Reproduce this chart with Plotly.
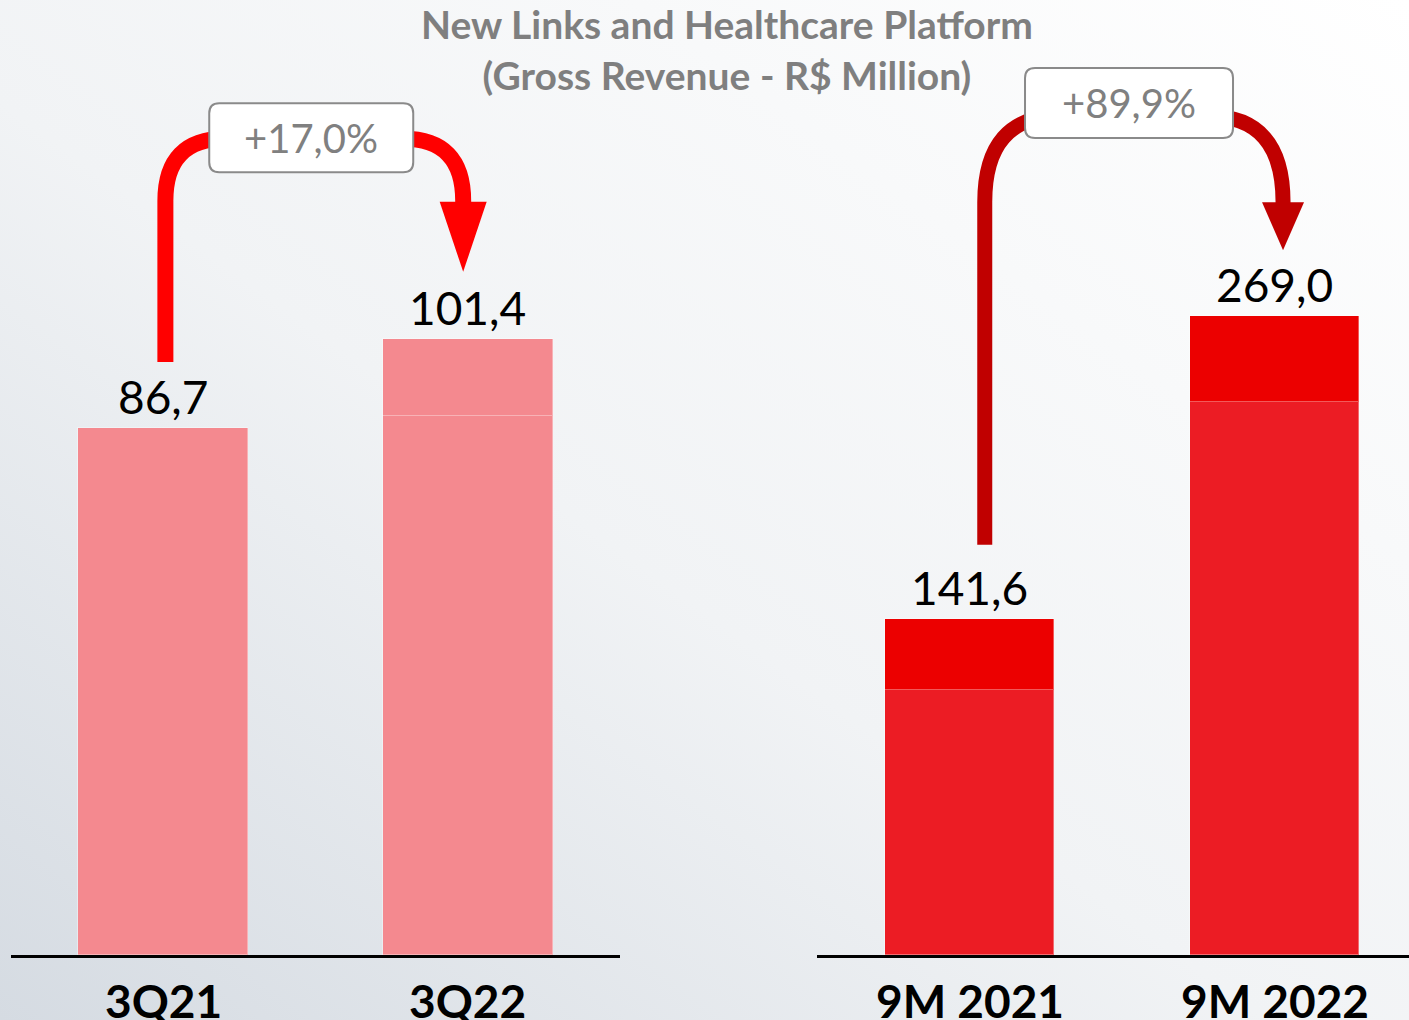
import base64
import plotly.graph_objects as go

# data
quarters = ['3Q21', '3Q22']
quarter_base = [86.7, 88.7]
quarter_top = [None, 12.7]
quarter_total = [86.7, 101.4]
quarter_growth = '+17,0%'

ytd = ['9M 2021', '9M 2022']
ytd_base = [111.7, 233.0]
ytd_top = [29.9, 36.0]
ytd_total = [141.6, 269.0]
ytd_growth = '+89,9%'

W, H = 1409, 1020
BASE_PX = 955
# pixels per data unit on each panel
KX_L, KY_L = 304.5, 6.077
KX_R, KY_R = 305.0, 2.3745

PINK = '#F4898F'
RED = '#EC1C24'
DARK = '#EC0000'


def fmt(v):
    return f'{v:.1f}'.replace('.', ',')


# soft gray/white background gradient
svg = ('<svg xmlns="http://www.w3.org/2000/svg" width="1409" height="1020">'
       '<defs><linearGradient id="g" x1="0" y1="1" x2="1" y2="0">'
       '<stop offset="0" stop-color="#d5dbe2"/><stop offset="0.45" stop-color="#f1f3f5"/>'
       '<stop offset="1" stop-color="#ffffff"/></linearGradient></defs>'
       '<rect width="1409" height="1020" fill="url(#g)"/></svg>')
bg = 'data:image/svg+xml;base64,' + base64.b64encode(svg.encode()).decode()

fig = go.Figure()
xs = [0, 1]
line = dict(color='rgba(255,255,255,0.35)', width=1)
fig.add_bar(x=xs, y=quarter_base, marker=dict(color=PINK, line=line), width=0.558, xaxis='x', yaxis='y')
fig.add_bar(x=xs, y=quarter_top, marker=dict(color=PINK, line=line), width=0.558, xaxis='x', yaxis='y')
fig.add_bar(x=xs, y=ytd_base, marker=dict(color=RED, line=line), width=0.557, xaxis='x2', yaxis='y2')
fig.add_bar(x=xs, y=ytd_top, marker=dict(color=DARK, line=line), width=0.557, xaxis='x2', yaxis='y2')


def arrow(xr, yr, x0, y0, x1, y_top, y_tip, kx, ky, rx, ry, hw, hh, color, lw):
    rx, ry, hw, hh = rx / kx, ry / ky, hw / kx, hh / ky
    path = (f'M {x0},{y0} L {x0},{y_top - ry} Q {x0},{y_top} {x0 + rx},{y_top} '
            f'L {x1 - rx},{y_top} Q {x1},{y_top} {x1},{y_top - ry} L {x1},{y_tip + hh - 1}')
    head = f'M {x1 - hw},{y_tip + hh} L {x1 + hw},{y_tip + hh} L {x1},{y_tip} Z'
    return [dict(type='path', path=path, xref=xr, yref=yr, line=dict(color=color, width=lw)),
            dict(type='path', path=head, xref=xr, yref=yr, line=dict(width=0), fillcolor=color)]


def rbox(xr, yr, cx, cy, kx, ky, w, h, r=10):
    hw, hh = w / 2 / kx, h / 2 / ky
    rx, ry = r / kx, r / ky
    x0, x1, y0, y1 = cx - hw, cx + hw, cy - hh, cy + hh
    path = (f'M {x0 + rx},{y1} L {x1 - rx},{y1} Q {x1},{y1} {x1},{y1 - ry} '
            f'L {x1},{y0 + ry} Q {x1},{y0} {x1 - rx},{y0} L {x0 + rx},{y0} '
            f'Q {x0},{y0} {x0},{y0 + ry} L {x0},{y1 - ry} Q {x0},{y1} {x0 + rx},{y1} Z')
    return dict(type='path', path=path, xref=xr, yref=yr, fillcolor='white',
                line=dict(color='#8a8a8a', width=2))


shapes = []
shapes += arrow('x', 'y', 0.007, quarter_total[0] + 66 / KY_L, 0.985, 134.3,
                quarter_total[1] + 67 / KY_L, KX_L, KY_L, 60, 62, 23.5, 70, '#FF0000', 16)
shapes += arrow('x2', 'y2', 0.05, ytd_total[0] + 74 / KY_R, 1.028, 353.3,
                ytd_total[1] + 66 / KY_R, KX_R, KY_R, 75, 86, 21, 48, '#C00000', 15)
shapes.append(rbox('x', 'y', 0.486, 134.5, KX_L, KY_L, 204, 69))
shapes.append(rbox('x2', 'y2', 0.523, 358.8, KX_R, KY_R, 208, 70))

ann = []
for xa, ya, cats, totals in [('x', 'y', quarters, quarter_total), ('x2', 'y2', ytd, ytd_total)]:
    for i, c in enumerate(cats):
        ann.append(dict(x=i, y=totals[i], xref=xa, yref=ya, text=fmt(totals[i]), showarrow=False,
                        yanchor='bottom', yshift=2, font=dict(family='Lato', size=46, color='black')))
        ann.append(dict(x=i, y=0, xref=xa, yref=ya, text=f'<b>{c}</b>', showarrow=False,
                        yanchor='top', yshift=-16, font=dict(family='Lato', size=46, color='black')))
ann.append(dict(x=0.486, y=134.5, xref='x', yref='y', text=quarter_growth, showarrow=False,
                font=dict(family='Lato', size=40, color='#808080')))
ann.append(dict(x=0.523, y=358.8, xref='x2', yref='y2', text=ytd_growth, showarrow=False,
                font=dict(family='Lato', size=40, color='#808080')))
ann.append(dict(x=727 / W, y=1.0, xref='paper', yref='paper', yanchor='top', yshift=1,
                text='<b>New Links and Healthcare Platform<br>(Gross Revenue - R$ Million)</b>',
                showarrow=False, font=dict(family='Lato', size=39, color='#7f7f7f')))

ydom = [(H - BASE_PX) / H, 1]
axis_x = dict(showgrid=False, zeroline=False, showticklabels=False, ticks='',
              showline=True, linecolor='black', linewidth=2.5, fixedrange=True)
axis_y = dict(showgrid=False, zeroline=False, showticklabels=False, ticks='', showline=False)

fig.update_layout(
    width=W, height=H, barmode='stack', showlegend=False, bargap=0,
    margin=dict(l=0, r=0, t=0, b=0),
    paper_bgcolor='#f3f4f6', plot_bgcolor='rgba(0,0,0,0)',
    xaxis=dict(axis_x, domain=[11 / W, 620 / W], range=[-0.5, 1.5]),
    yaxis=dict(axis_y, domain=ydom, range=[0, BASE_PX / KY_L]),
    xaxis2=dict(axis_x, domain=[817 / W, 1.0], range=[-0.5, 0.5 + 592 / KX_R - 1]),
    yaxis2=dict(axis_y, domain=ydom, range=[0, BASE_PX / KY_R], anchor='x2'),
    shapes=shapes, annotations=ann,
    images=[dict(source=bg, xref='paper', yref='paper', x=0, y=1, sizex=1, sizey=1,
                 sizing='stretch', layer='below')],
)
fig.update_layout(xaxis2_anchor='y2')

# drop the browser's default page margin so the figure fills the window
fig.write_html('out.html', config={'displayModeBar': False},
               post_script="document.body.style.margin='0';document.body.style.overflow='hidden';")
